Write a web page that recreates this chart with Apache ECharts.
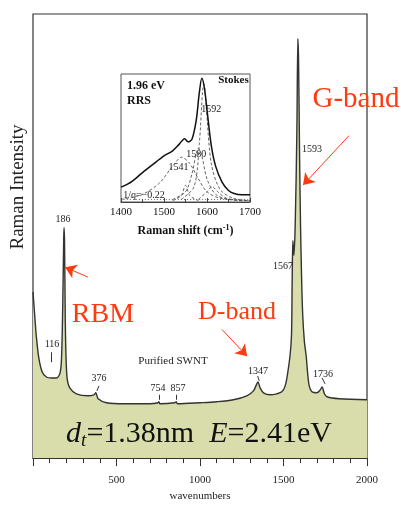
<!DOCTYPE html>
<html><head><meta charset="utf-8">
<script src="https://cdn.jsdelivr.net/npm/echarts@6/dist/echarts.min.js"></script>
<style>html,body{margin:0;padding:0;background:#fff}#c{width:401px;height:507px}</style>
</head><body><div id="c"></div>
<script>
// Main spectrum (wavenumbers, arbitrary intensity)
const wavenumber = [0,10,20,35,55,80,110,140,160,170,178,184,186,189,193,198,205,220,260,330,365,376,390,440,550,700,750,754,760,850,857,865,1000,1100,1200,1280,1320,1340,1347,1360,1380,1420,1460,1490,1510,1525,1540,1548,1552,1556,1562,1570,1580,1586,1590,1596,1602,1608,1615,1625,1636,1645,1654,1670,1700,1720,1731,1745,1760,1833,2000];
const intensity  = [168,145,123,101,87,82,81,81,85,98,153,223,233,218,143,101,80,71,65,63,64,66,60,56,55,55,56,57,55,56,57,55,56,57,59,63,68,75,77,71,66,64,65,67,73,86,105,125,180,220,205,235,330,424,405,310,235,185,145,118,103,85,73,67,66,69,72,65,62,60,59];
const xTicks = [500,1000,1500,2000];

// Inset (G-band region, 1.96 eV RRS)
const insetX = [1400,1425,1450,1475,1500,1520,1535,1548,1556,1565,1575,1582,1588,1594,1600,1610,1620,1635,1650,1665,1680,1700];
const insetY = [11.6,16,23,29.6,36,40,45,49.5,47,49,64,85,96.6,89,72,44,28,15.5,9,6.4,5.7,5.7];
const comp1541X = [1400,1450,1490,1520,1541,1560,1580,1600,1630,1700];
const comp1541Y = [2,6,15,28,35,30,18,8,3,1];
const comp1580X = [1520,1550,1565,1575,1580,1588,1600,1620,1650,1700];
const comp1580Y = [2,8,22,38,42,36,18,6,2,1];
const comp1592X = [1540,1570,1582,1590,1593,1598,1610,1630,1660,1700];
const comp1592Y = [2,12,45,88,92,75,30,10,3,1];
const comp1550X = [1520,1540,1550,1560,1580];
const comp1550Y = [1,5,13,5,1];
const comp1612X = [1580,1600,1612,1625,1645,1680];
const comp1612Y = [2,8,12,8,3,1];
const baseX = [1400,1700];
const baseY = [2,2];
const insetTicks = [1400,1500,1600,1700];

// Peak labels on main spectrum: [text, wn, intensity]
const peakLabels = [['186',180,241],['116',114,115],['376',395,81],['754',748,70],['857',868,70],['1347',1347,88],['1567',1497,194],['1593',1671,312],['1736',1737,85]];
const peakTicks = [[[110,107],[110,97]],[[383,68],[395,73]],[[754,64],[754,59]],[[857,64],[857,59]],[[1345,83],[1355,78]],[[1731,81],[1749,75]]];
const arrows = [[[329,183],[192,193]],[[1132,130],[1282,103]],[[1892,326],[1617,276]]];

const pair = (xs, ys) => xs.map((x, i) => [x, ys[i]]);
const serif = 'Liberation Serif';
const red = '#ff3a10';

function txt(coord, text, size, color) {
  return {coord: coord, symbolSize: 0, label: {show: true, position: 'inside', formatter: text, fontFamily: serif, fontSize: size, color: color || '#222'}};
}

const chart = echarts.init(document.getElementById('c'), null, {renderer: 'canvas'});
const dashed = (xs, ys, type) => ({type: 'line', xAxisIndex: 1, yAxisIndex: 1, data: pair(xs, ys), showSymbol: false, smooth: 0.3, silent: true, z: 6,
  lineStyle: {color: '#555', width: 0.9, type: type || [3, 2]}});

chart.setOption({
  animation: false,
  backgroundColor: '#fff',
  grid: [
    {left: 33, right: 34, top: 14, bottom: 44, show: true, borderColor: '#333', borderWidth: 1.2, backgroundColor: 'transparent'},
    {left: 121, right: 151, top: 74, bottom: 305, show: true, borderColor: '#555', borderWidth: 1, backgroundColor: '#fff', z: 5}
  ],
  xAxis: [
    {gridIndex: 0, type: 'value', min: 0, max: 2000, interval: 500,
     axisLine: {show: true, lineStyle: {color: '#333', width: 1.2}},
     axisTick: {show: true, length: 8, lineStyle: {color: '#333'}},
     minorTick: {show: true, splitNumber: 5, length: 5, lineStyle: {color: '#333'}},
     splitLine: {show: false},
     axisLabel: {fontFamily: serif, fontSize: 11, color: '#222', margin: 17, formatter: v => xTicks.includes(v) ? String(v) : ''},
     name: 'wavenumbers', nameLocation: 'middle', nameGap: 31, nameTextStyle: {fontFamily: serif, fontSize: 11, color: '#222'}},
    {gridIndex: 1, type: 'value', min: 1400, max: 1700, interval: 100, z: 6,
     axisLine: {show: true, lineStyle: {color: '#444'}},
     axisTick: {show: true, inside: true, length: 4, lineStyle: {color: '#444'}},
     minorTick: {show: true, splitNumber: 2, length: 3, lineStyle: {color: '#444'}},
     splitLine: {show: false},
     axisLabel: {fontFamily: serif, fontSize: 11, color: '#111', margin: 5, formatter: v => insetTicks.includes(v) ? String(v) : ''},
     name: '{a|Raman shift (cm}{s|-1}{a|)}', nameLocation: 'middle', nameGap: 22,
     nameTextStyle: {rich: {a: {fontFamily: serif, fontSize: 12, fontWeight: 'bold', color: '#111'}, s: {fontFamily: serif, fontSize: 8, fontWeight: 'bold', color: '#111', verticalAlign: 'top', padding: [0,0,6,0]}}}}
  ],
  yAxis: [
    {gridIndex: 0, type: 'value', min: 0, max: 449, show: false},
    {gridIndex: 1, type: 'value', min: 0, max: 100, show: false}
  ],
  graphic: [
    {type: 'text', z: 100, x: 18, y: 187, rotation: Math.PI / 2, style: {text: 'Raman Intensity', fontFamily: serif, fontSize: 19, fill: '#222', align: 'center', verticalAlign: 'middle'}},
    {type: 'text', z: 100, x: 199, y: 434, style: {text: '{i|d}{sub|t}{n|=1.38nm  }{i|E}{n|=2.41eV}', align: 'center', verticalAlign: 'middle',
      rich: {i: {fontFamily: serif, fontStyle: 'italic', fontSize: 30, fill: '#111'}, n: {fontFamily: serif, fontSize: 30, fill: '#111'},
             sub: {fontFamily: serif, fontStyle: 'italic', fontSize: 19, fill: '#111', verticalAlign: 'bottom', padding: [13,0,0,0]}}}}
  ],
  series: [
    {type: 'line', xAxisIndex: 0, yAxisIndex: 0, data: pair(wavenumber, intensity), showSymbol: false, smooth: 0.3,
     lineStyle: {color: '#333', width: 1.4}, areaStyle: {color: '#d9ddab', opacity: 1}, z: 2,
     markLine: {silent: true, symbol: ['none', 'none'], label: {show: false}, lineStyle: {color: '#333', width: 1, type: 'solid'},
       data: peakTicks.map(t => [{coord: t[0]}, {coord: t[1]}])},
     markPoint: {silent: true, symbol: 'circle', symbolSize: 0,
       data: peakLabels.map(p => txt([p[1], p[2]], p[0], 10)).concat([
         txt([838, 98], 'Purified SWNT', 11),
         txt([419, 145], 'RBM', 28, red),
         txt([1222, 148], 'D-band', 26, red),
         txt([1934, 363], 'G-band', 29, red)
       ])}},
    {type: 'line', xAxisIndex: 0, yAxisIndex: 0, data: [], showSymbol: false, silent: true, z: 3,
     markLine: {silent: true, symbol: ['none', 'arrow'], symbolSize: 11, label: {show: false},
       itemStyle: {color: red}, lineStyle: {color: red, width: 1, type: 'solid', opacity: 1},
       data: arrows.map(a => [{coord: a[0], symbol: 'none'}, {coord: a[1], symbol: 'arrow', symbolSize: 11, itemStyle: {color: red}}])}},
    dashed(comp1541X, comp1541Y),
    dashed(comp1580X, comp1580Y),
    dashed(comp1592X, comp1592Y),
    dashed(comp1550X, comp1550Y),
    dashed(comp1612X, comp1612Y),
    dashed(baseX, baseY, [1, 2]),
    {type: 'line', xAxisIndex: 1, yAxisIndex: 1, data: pair(insetX, insetY), showSymbol: false, smooth: 0.3, z: 7,
     lineStyle: {color: '#111', width: 1.5},
     markPoint: {silent: true, symbolSize: 0,
       data: [
         {coord: [1414, 91], symbolSize: 0, label: {show: true, position: 'right', distance: 0, formatter: '1.96 eV', fontFamily: serif, fontSize: 12, fontWeight: 'bold', color: '#111'}},
         {coord: [1414, 79], symbolSize: 0, label: {show: true, position: 'right', distance: 0, formatter: 'RRS', fontFamily: serif, fontSize: 12, fontWeight: 'bold', color: '#111'}},
         {coord: [1697, 95], symbolSize: 0, label: {show: true, position: 'left', distance: 0, formatter: 'Stokes', fontFamily: serif, fontSize: 11, fontWeight: 'bold', color: '#111'}},
         {coord: [1610, 72], symbolSize: 0, label: {show: true, position: 'inside', formatter: '1592', fontFamily: serif, fontSize: 10, color: '#222'}},
         {coord: [1575, 37], symbolSize: 0, label: {show: true, position: 'inside', formatter: '1580', fontFamily: serif, fontSize: 10, color: '#222'}},
         {coord: [1534, 27], symbolSize: 0, label: {show: true, position: 'inside', formatter: '1541', fontFamily: serif, fontSize: 10, color: '#222'}},
         {coord: [1405, 5.5], symbolSize: 0, label: {show: true, position: 'right', distance: 0, formatter: '1/q=\u22120.22', fontFamily: serif, fontSize: 10, color: '#222'}}
       ]}}
  ]
});
</script></body></html>
